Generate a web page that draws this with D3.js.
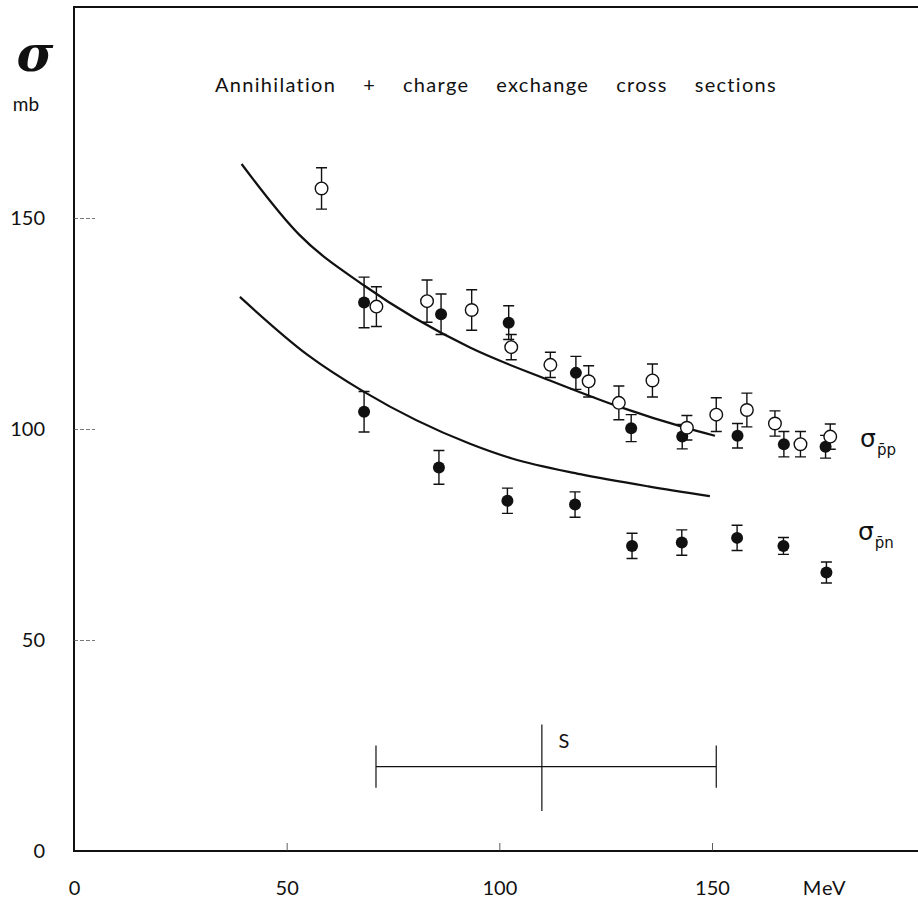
<!DOCTYPE html>
<html>
<head>
<meta charset="utf-8">
<script src="https://cdn.jsdelivr.net/npm/d3@7"></script>
<style>
  body { margin: 0; background: #fff; }
  svg text { font-family: Lato, "Open Sans", sans-serif; fill: #111; }
</style>
</head>
<body>
<div id="chart"></div>
<script>
"use strict";

// open circles, p̄p
const ppOpenE   = [58.2, 71.1, 83.0, 93.5, 102.8, 112.0, 121.0, 128.1, 136.0, 144.1, 151.0, 158.2, 164.8, 170.8, 177.8];
const ppOpenS   = [157.0, 129.0, 130.3, 128.2, 119.4, 115.2, 111.3, 106.2, 111.5, 100.3, 103.4, 104.5, 101.3, 96.4, 98.2];
const ppOpenErr = [4.9, 4.7, 5.0, 4.8, 3.0, 3.0, 3.7, 4.0, 3.9, 2.9, 4.0, 4.0, 3.0, 3.0, 3.0];

// filled circles, p̄p
const ppFullE   = [68.2, 86.3, 102.2, 118.0, 131.0, 143.0, 156.0, 166.9, 176.7];
const ppFullS   = [130.0, 127.2, 125.2, 113.3, 100.2, 98.2, 98.4, 96.4, 95.8];
const ppFullErr = [6.0, 4.8, 4.0, 3.9, 3.2, 2.9, 2.9, 3.0, 2.7];

// filled circles, p̄n
const pnE   = [68.2, 85.8, 101.9, 117.8, 131.2, 142.9, 155.9, 166.8, 176.9];
const pnS   = [104.1, 90.9, 83.0, 82.1, 72.3, 73.1, 74.2, 72.3, 66.0];
const pnErr = [4.8, 4.0, 3.0, 3.0, 3.0, 3.0, 3.0, 2.0, 2.5];

// the two smooth curves
const ppCurveE = [39.4, 53, 68.2, 93.1, 111.9, 128.1, 144.1, 150.7];
const ppCurveS = [162.8, 146, 134, 119.3, 111.5, 105.3, 100.2, 98.4];
const pnCurveE = [39, 55, 68.2, 93.1, 103, 119, 135, 149.5];
const pnCurveS = [131.3, 117.5, 108.8, 96.5, 93, 89.3, 86.4, 84.1];

// energy spread bar "S"
const sRange = [71, 110, 151];
const sLevel = 20;

const xTicks = [0, 50, 100, 150];
const yTicks = [0, 50, 100, 150];
const titleWords = ['Annihilation', '+', 'charge', 'exchange', 'cross', 'sections'];

const width = 918, height = 904;

const x = d3.scaleLinear().domain([0, 150]).range([74, 712]);
const y = d3.scaleLinear().domain([0, 150]).range([851, 218]);

const svg = d3.select('#chart').append('svg')
    .attr('width', width)
    .attr('height', height)

const zip = (e, s, err) => e.map((d, i) => ({ e: d, s: s[i], err: err ? err[i] : 0 }));

/*
 * Frame (axes + top border)
 ***/
svg.append('path')
  .attr('fill', 'none')
  .attr('stroke', '#111')
  .attr('stroke-width', 2)
  .attr('d', `M${x(200)},${y(200)}H${x(0)}V${y(0)}H${x(200)}`)

/*
 * Axes
 ***/
const xAxis = d3.axisBottom(x)
  .tickValues(xTicks)
  .tickSize(-8)
  .tickPadding(30)

const xg = svg.append('g')
  .attr('transform', `translate(0,${y(0)})`)
  .call(xAxis)

xg.select('.domain').remove();
xg.selectAll('line').attr('stroke', '#333').attr('stroke-width', 0.8)
  .filter(d => d === 0).remove();
xg.selectAll('text')
  .style('font-size', '20px')
  .attr('fill', '#111')

xg.append('text')
  .attr('x', x(176.5))
  .attr('y', 30)
  .attr('dy', '0.71em')
  .attr('text-anchor', 'middle')
  .style('font-size', '20px')
  .style('letter-spacing', '1px')
  .text('MeV')

const yAxis = d3.axisLeft(y)
  .tickValues(yTicks)
  .tickSize(-21)
  .tickPadding(29)

const yg = svg.append('g')
  .attr('transform', `translate(${x(0)},0)`)
  .call(yAxis)

yg.select('.domain').remove();
yg.selectAll('line')
  .attr('stroke', '#555')
  .attr('stroke-width', 0.8)
  .attr('stroke-dasharray', '4,2')
  .filter(d => d === 0).remove();
yg.selectAll('text')
  .style('font-size', '20px')
  .attr('fill', '#111')

// sigma / mb unit
svg.append('text')
  .attr('x', 35)
  .attr('y', 71)
  .attr('text-anchor', 'middle')
  .style('font-family', '"DejaVu Serif", serif')
  .style('font-weight', 'bold')
  .style('font-style', 'italic')
  .style('font-size', '50px')
  .text('σ')

svg.append('text')
  .attr('x', 26)
  .attr('y', 111)
  .attr('text-anchor', 'middle')
  .style('font-size', '19px')
  .text('mb')

/*
 * Title, spread out to the width it has in the original
 ***/
const title = svg.append('text')
  .attr('x', 215)
  .attr('y', 92)
  .style('font-size', '20px')
  .style('letter-spacing', '1.3px')
  .text(titleWords.join(' '))

const natural = title.node().getComputedTextLength();
title.attr('word-spacing', (562 - natural) / (titleWords.length - 1))

/*
 * Curves
 ***/
const line = d3.line()
  .x(d => x(d.e))
  .y(d => y(d.s))
  .curve(d3.curveMonotoneX)

svg.append('g')
  .attr('fill', 'none')
  .attr('stroke', '#111')
  .attr('stroke-width', 2.2)
  .selectAll('path')
  .data([zip(ppCurveE, ppCurveS), zip(pnCurveE, pnCurveS)])
  .join('path')
  .attr('d', line)

/*
 * Error bars and markers
 ***/
const allPoints = zip(ppOpenE, ppOpenS, ppOpenErr)
  .concat(zip(ppFullE, ppFullS, ppFullErr))
  .concat(zip(pnE, pnS, pnErr))

svg.append('g')
  .attr('stroke', '#111')
  .attr('stroke-width', 1.4)
  .attr('fill', 'none')
  .selectAll('path')
  .data(allPoints)
  .join('path')
  .attr('d', d => {
    const cx = x(d.e), y0 = y(d.s - d.err), y1 = y(d.s + d.err);
    return `M${cx},${y0}V${y1}M${cx - 5.5},${y0}H${cx + 5.5}M${cx - 5.5},${y1}H${cx + 5.5}`;
  })

svg.append('g')
  .selectAll('circle')
  .data(zip(ppFullE, ppFullS).concat(zip(pnE, pnS)))
  .join('circle')
  .attr('cx', d => x(d.e))
  .attr('cy', d => y(d.s))
  .attr('r', 6)
  .attr('fill', '#111')

svg.append('g')
  .selectAll('circle')
  .data(zip(ppOpenE, ppOpenS))
  .join('circle')
  .attr('cx', d => x(d.e))
  .attr('cy', d => y(d.s))
  .attr('r', 6.3)
  .attr('fill', '#fff')
  .attr('stroke', '#111')
  .attr('stroke-width', 1.4)

/*
 * Series labels
 ***/
function sigmaLabel(e, s, sub) {
  const t = svg.append('text')
    .attr('x', x(e))
    .attr('y', y(s))
    .style('font-family', '"DejaVu Sans", sans-serif')
    .style('font-size', '25px')
  t.append('tspan').text('σ')
  t.append('tspan')
    .attr('dy', 8)
    .attr('dx', 1)
    .style('font-size', '15px')
    .text(sub)
}

sigmaLabel(184.8, 95.8, 'p\u0304p')
sigmaLabel(184.3, 73.8, 'p\u0304n')

/*
 * Energy spread S
 ***/
svg.append('path')
  .attr('stroke', '#111')
  .attr('stroke-width', 1.2)
  .attr('fill', 'none')
  .attr('d', `M${x(sRange[0])},${y(sLevel)}H${x(sRange[2])}`
    + `M${x(sRange[0])},${y(sLevel - 5)}V${y(sLevel + 5)}`
    + `M${x(sRange[2])},${y(sLevel - 5)}V${y(sLevel + 5)}`
    + `M${x(sRange[1])},${y(sLevel - 10.5)}V${y(sLevel + 10)}`)

svg.append('text')
  .attr('x', x(sRange[1]) + 22)
  .attr('y', y(sLevel + 4.5))
  .attr('text-anchor', 'middle')
  .style('font-size', '20px')
  .text('S')
</script>
</body>
</html>
